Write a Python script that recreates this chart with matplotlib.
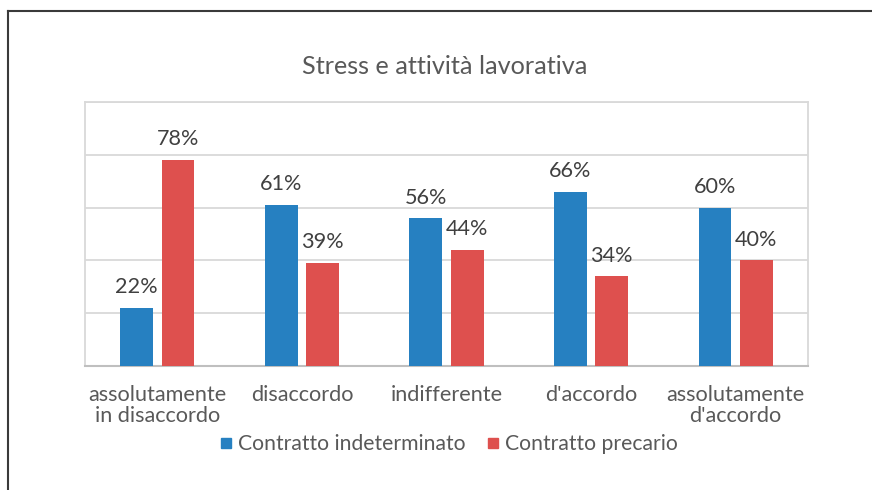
import matplotlib
matplotlib.use("Agg")
import matplotlib.pyplot as plt
import numpy as np
from matplotlib.lines import Line2D

# data
categories = ["assolutamente\nin disaccordo", "disaccordo", "indifferente",
              "d'accordo", "assolutamente\nd'accordo"]
indeterminato = [22, 61, 56, 66, 60]
precario = [78, 39, 44, 34, 40]
series_names = ["Contratto indeterminato", "Contratto precario"]
title = "Stress e attività lavorativa"

plt.rcParams["font.family"] = ["Lato", "DejaVu Sans"]
text_color = "#595959"
label_color = "#404040"
blue = "#2680C1"
red = "#DE504E"
W, H = 872, 490

fig = plt.figure(figsize=(W / 100, H / 100), dpi=100)
ax = fig.add_axes([85 / W, 1 - 366 / H, (808 - 85) / W, (366 - 102) / H])

x = np.arange(len(categories))
bw = 0.227
off = 0.143
bars1 = ax.bar(x - off, indeterminato, bw, color=blue, zorder=3)
bars2 = ax.bar(x + off, precario, bw, color=red, zorder=3)

for bars, vals in ((bars1, indeterminato), (bars2, precario)):
    for b, v in zip(bars, vals):
        ax.annotate(f"{v}%", (b.get_x() + b.get_width() / 2, v),
                    xytext=(0, 10.5), textcoords="offset points",
                    ha="center", va="baseline", fontsize=15.6, color=label_color)

ax.set_xlim(-0.5, 4.5)
ax.set_ylim(0, 100)
ax.set_yticks(np.arange(0, 101, 20))
ax.yaxis.grid(True, color="#d9d9d9", linewidth=1.3, zorder=0)
ax.set_xticks(x)
ax.set_xticklabels(categories, fontsize=15.6, color=text_color, linespacing=1.1)
ax.tick_params(axis="y", left=False, labelleft=False)
ax.tick_params(axis="x", bottom=False, pad=10)
for side in ("left", "right", "top"):
    ax.spines[side].set_color("#d9d9d9")
    ax.spines[side].set_linewidth(1.3)
ax.spines["bottom"].set_color("#bfbfbf")
ax.spines["bottom"].set_linewidth(1.5)

fig.text(445 / W, 1 - 66 / H, title, ha="center", va="center",
         fontsize=18.2, color=text_color)

handles = [Line2D([], [], marker="s", linestyle="none", markersize=7.5, color=c)
           for c in (blue, red)]
fig.legend(handles, series_names, loc="center", bbox_to_anchor=(449 / W, 1 - 444 / H),
           ncol=2, frameon=False, fontsize=15.2, labelcolor=text_color,
           handlelength=0.55, handletextpad=0.3, columnspacing=1.0)

# outer frame of the pasted chart
fig.add_artist(Line2D([8 / W, 1], [1 - 11 / H, 1 - 11 / H], color="#3a3a3a", linewidth=1.5))
fig.add_artist(Line2D([8 / W, 8 / W], [1 - 11 / H, 0], color="#3a3a3a", linewidth=1.5))

fig.savefig("out.png", dpi=100)
